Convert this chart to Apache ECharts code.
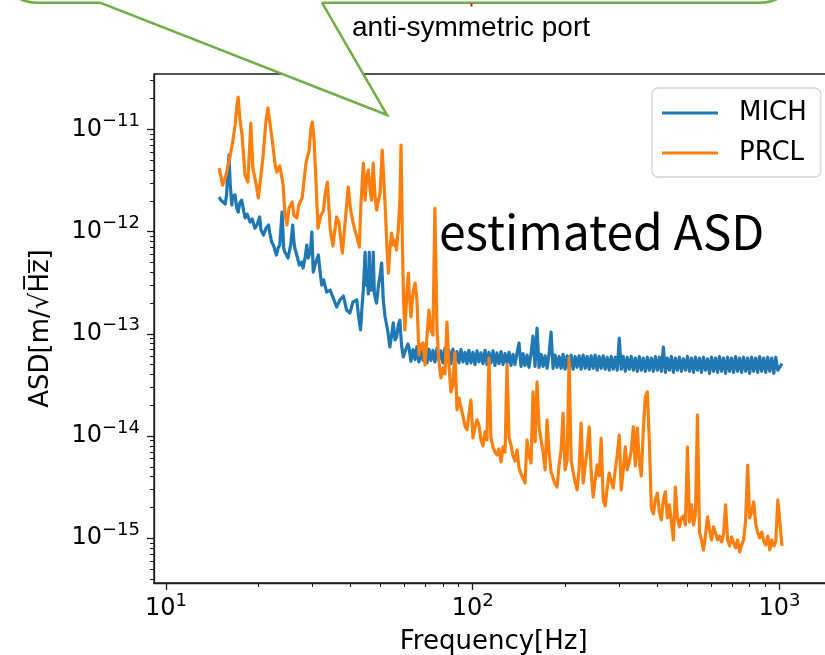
<!DOCTYPE html>
<html>
<head>
<meta charset="utf-8">
<script src="https://cdn.jsdelivr.net/npm/echarts@6/dist/echarts.min.js"></script>
<style>
html, body { margin: 0; padding: 0; background: #ffffff; }
#chart { width: 825px; height: 655px; }
</style>
</head>
<body>
<div id="chart"></div>
<script>
// Low-frequency part of the PRCL spectrum: frequency [Hz] and ASD [m/sqrt(Hz)]
const prclLowFreq = [14.9,15.1,15.3,15.6,15.8,16.2,16.5,16.8,17.0,17.2,
  17.4,17.7,18.1,18.5,18.9,19.2,19.7,20.0,20.4,20.7,
  21.2,21.5,21.8,22.2,22.7,23.0,23.5,24.1,24.4,24.8,
  25.2,25.8,26.1,26.7,27.1,27.8,28.2,28.6,29.3,29.7,
  30.0,30.4,30.7,31.3,32.0,32.6,33.0,33.6,34.3,35.0,
  36.0,36.6,37.6,38.3,39.3,40.0,40.7,41.3,42.0,42.7,
  43.2,44.0,44.6,45.1,45.7,46.3,46.8,47.4,48.0,48.6,
  49.3,49.9,50.7,51.4,51.8,52.4,53.1,53.7,54.4,55.2,
  55.8,56.4,57.2,57.9,58.4,59.0,59.5,60.1,61.1,61.7];
const prclLowAsd = [4.18e-12,3.49e-12,2.85e-12,3.34e-12,3.91e-12,5.61e-12,7.51e-12,1.10e-11,1.62e-11,2.07e-11,
  1.29e-11,8.80e-12,3.57e-12,3.05e-12,1.15e-11,4.18e-12,2.85e-12,2.13e-12,3.57e-12,5.24e-12,
  1.23e-11,1.62e-11,1.18e-11,7.86e-12,4.48e-12,3.82e-12,4.38e-12,2.85e-12,1.55e-12,1.16e-12,
  1.70e-12,1.95e-12,1.45e-12,1.36e-12,1.82e-12,2.13e-12,3.19e-12,4.68e-12,6.28e-12,1.03e-11,
  1.18e-11,7.86e-12,4.18e-12,1.08e-12,1.45e-12,1.59e-12,2.28e-12,3.05e-12,1.08e-12,7.22e-13,
  1.39e-12,1.24e-12,6.17e-13,1.16e-12,2.73e-12,1.62e-12,1.24e-12,1.04e-12,8.65e-13,7.06e-13,
  1.82e-12,4.68e-12,2.03e-12,3.34e-12,4.00e-12,2.55e-12,2.03e-12,4.68e-12,2.28e-12,1.62e-12,
  2.03e-12,2.38e-12,6.28e-12,2.85e-12,1.90e-12,8.27e-13,3.93e-13,6.60e-13,9.68e-13,7.39e-13,
  8.27e-13,6.60e-13,1.04e-12,2.03e-12,7.02e-12,7.73e-13,2.14e-13,1.09e-13,2.68e-13,3.93e-13];

// Low-frequency part of the MICH spectrum
const michLowFreq = [14.9,15.1,15.3,15.6,15.76,15.9,16.05,16.2,16.4,16.5,
  16.8,17.0,17.2,17.4,17.65,17.9,18.1,18.4,18.8,19.1,
  19.5,19.8,20.2,20.4,20.8,21.2,21.6,21.8,22.1,22.4,
  22.9,23.2,23.5,23.9,24.2,24.4,25.0,25.5,25.9,26.1,
  26.3,26.7,27.2,27.7,28.0,28.4,28.8,29.1,29.6,29.9,
  30.2,30.8,31.4,31.8,32.2,32.7,33.4,34.3,35.1,36.0,
  36.9,37.9,38.8,39.8,40.7,41.9,42.4,43.1,43.6,44.0,
  44.6,44.9,45.3,45.7,46.0,46.4,46.8,47.1,47.4,47.8,
  48.6,49.3,49.9,50.5,51.1,51.8,52.8,53.7,54.4,55.1,
  55.8,56.5,57.2,57.9,58.6,59.4,60.4,61.5];
const michLowAsd = [2.18e-12,2.03e-12,2.08e-12,1.86e-12,2.28e-12,3.82e-12,5.61e-12,2.85e-12,1.82e-12,2.23e-12,
  2.28e-12,1.70e-12,1.55e-12,1.90e-12,2.03e-12,1.62e-12,1.36e-12,1.48e-12,1.24e-12,1.33e-12,
  1.08e-12,1.16e-12,1.39e-12,1.04e-12,9.25e-13,1.08e-12,1.16e-12,9.68e-13,7.90e-13,7.39e-13,
  5.90e-13,6.90e-13,7.39e-13,1.55e-12,6.90e-13,6.31e-13,5.51e-13,7.39e-13,1.16e-12,8.27e-13,
  6.90e-13,5.90e-13,4.71e-13,5.04e-13,4.40e-13,5.51e-13,7.39e-13,5.51e-13,6.60e-13,9.90e-13,
  4.02e-13,5.04e-13,5.90e-13,4.02e-13,3.00e-13,3.36e-13,2.56e-13,2.68e-13,2.24e-13,1.83e-13,
  2.14e-13,2.34e-13,1.71e-13,1.60e-13,2.05e-13,2.14e-13,1.53e-13,1.09e-13,1.91e-13,2.68e-13,
  6.31e-13,3.00e-13,3.59e-13,2.45e-13,6.31e-13,2.68e-13,3.93e-13,2.68e-13,6.31e-13,2.45e-13,
  2.00e-13,3.00e-13,3.76e-13,4.93e-13,2.14e-13,1.46e-13,1.09e-13,7.43e-14,9.73e-14,1.28e-13,
  8.70e-14,9.30e-14,1.22e-13,1.36e-13,7.77e-14,5.93e-14,6.94e-14,7.95e-14];

// Common frequency bins [Hz] above 62 Hz, shared by both channels
const binFreq = [62.0,62.9,63.9,64.9,65.8,66.8,67.8,68.9,69.9,71.0,
  72.0,73.1,74.2,75.3,76.5,77.6,78.8,80.0,81.2,82.4,
  83.7,84.9,86.2,87.5,88.9,90.2,91.6,93.0,94.4,95.8,
  97.2,98.7,100.2,101.7,103.3,104.8,106.4,108.0,109.7,111.3,
  113.0,114.7,116.5,118.2,120.0,121.8,123.7,125.6,127.5,129.4,
  131.4,133.3,135.4,137.4,139.5,141.6,143.7,145.9,148.1,150.4,
  152.6,155.0,157.3,159.7,162.1,164.6,167.1,169.6,172.2,174.8,
  177.4,180.1,182.8,185.6,188.4,191.3,194.2,197.1,200.1,203.2,
  206.2,209.4,212.5,215.8,219.0,222.4,225.7,229.2,232.7,236.2,
  239.8,243.4,247.1,250.8,254.6,258.5,262.4,266.4,270.4,274.5,
  278.7,282.9,287.2,291.6,296.0,300.5,305.0,309.7,314.4,319.1,
  324.0,328.9,333.9,338.9,344.1,349.3,354.6,360.0,365.4,371.0,
  376.6,382.3,388.1,394.0,400.0,406.1,412.2,418.5,424.8,431.3,
  437.8,444.5,451.2,458.1,465.0,472.1,479.2,486.5,493.9,501.4,
  509.0,516.7,524.6,532.5,540.6,548.8,557.2,565.6,574.2,582.9,
  591.8,600.8,609.9,619.2,628.6,638.1,647.8,657.6,667.6,677.8,
  688.1,698.5,709.1,719.9,730.8,741.9,753.2,764.6,776.2,788.0,
  800.0,812.2,824.5,837.0,849.8,862.7,875.8,889.1,902.6,916.3,
  930.2,944.4,958.7,973.3,988.1,1020];

// MICH ASD on the common bins (flat noise floor with a few lines)
const michBinAsd = [7.3e-14,5.4e-14,7.0e-14,5.6e-14,7.5e-14,5.3e-14,6.8e-14,5.5e-14,7.4e-14,5.2e-14,
  7.1e-14,5.5e-14,6.9e-14,5.3e-14,7.3e-14,5.6e-14,6.8e-14,5.2e-14,7.2e-14,5.4e-14,
  6.9e-14,5.1e-14,7.1e-14,5.4e-14,6.7e-14,5.2e-14,7.0e-14,5.3e-14,6.6e-14,5.1e-14,
  6.9e-14,5.2e-14,6.6e-14,5.0e-14,6.8e-14,5.3e-14,6.5e-14,5.1e-14,6.9e-14,5.0e-14,
  6.6e-14,5.2e-14,6.8e-14,4.9e-14,6.5e-14,5.1e-14,6.7e-14,5.0e-14,6.4e-14,5.2e-14,
  6.6e-14,4.9e-14,6.3e-14,5.0e-14,6.5e-14,8.1e-14,4.8e-14,6.4e-14,4.9e-14,6.2e-14,
  4.7e-14,6.4e-14,9.5e-14,4.8e-14,1.14e-13,4.7e-14,6.3e-14,4.8e-14,6.1e-14,4.6e-14,
  6.3e-14,1.04e-13,4.6e-14,6.2e-14,4.7e-14,6.0e-14,4.6e-14,6.3e-14,4.5e-14,6.1e-14,
  4.6e-14,6.2e-14,4.5e-14,6.0e-14,4.7e-14,6.1e-14,4.5e-14,6.2e-14,4.6e-14,6.0e-14,
  4.5e-14,6.1e-14,4.6e-14,6.2e-14,4.4e-14,6.0e-14,4.6e-14,6.1e-14,4.5e-14,5.9e-14,
  4.4e-14,6.0e-14,4.5e-14,5.9e-14,4.4e-14,9.1e-14,4.5e-14,6.0e-14,4.3e-14,5.9e-14,
  4.5e-14,6.0e-14,4.4e-14,5.8e-14,4.3e-14,6.0e-14,4.4e-14,5.8e-14,4.3e-14,5.9e-14,
  4.4e-14,5.8e-14,4.3e-14,6.0e-14,4.4e-14,5.9e-14,4.3e-14,7.4e-14,4.2e-14,5.8e-14,
  4.4e-14,6.0e-14,4.2e-14,5.8e-14,4.4e-14,5.9e-14,4.3e-14,5.7e-14,4.4e-14,6.0e-14,
  4.3e-14,5.8e-14,4.2e-14,5.9e-14,4.4e-14,5.8e-14,4.2e-14,5.9e-14,4.4e-14,5.7e-14,
  4.1e-14,5.9e-14,4.3e-14,5.8e-14,4.2e-14,6.0e-14,4.3e-14,5.8e-14,4.1e-14,5.9e-14,
  4.3e-14,5.8e-14,4.2e-14,6.0e-14,4.3e-14,5.8e-14,4.2e-14,5.9e-14,4.3e-14,5.8e-14,
  4.1e-14,5.9e-14,4.3e-14,5.8e-14,4.2e-14,6.0e-14,4.3e-14,5.8e-14,4.2e-14,5.9e-14,
  4.3e-14,5.8e-14,4.1e-14,5.9e-14,4.4e-14,5.1e-14];

// PRCL ASD on the common bins
const prclBinAsd = [2.68e-13,1.46e-13,2.56e-13,3.14e-13,2.14e-13,6.21e-14,7.77e-14,8.13e-14,4.95e-14,9.73e-14,
  1.71e-13,1.09e-13,9.73e-14,1.70e-12,1.09e-13,5.30e-14,3.70e-14,4.63e-14,4.05e-14,1.30e-13,
  4.95e-14,2.70e-14,3.16e-14,6.64e-14,1.80e-14,2.36e-14,1.88e-14,1.57e-14,1.25e-14,1.15e-14,
  1.64e-14,2.25e-14,9.57e-15,1.20e-14,1.44e-14,1.28e-14,9.15e-15,7.99e-15,1.10e-14,9.15e-15,
  5.80e-14,9.57e-15,7.82e-15,6.98e-15,6.53e-15,7.47e-15,5.58e-15,7.82e-15,6.98e-15,4.95e-14,
  9.57e-15,8.17e-15,6.38e-15,5.70e-15,7.30e-15,4.87e-15,4.26e-15,3.89e-15,3.47e-15,9.15e-15,
  6.53e-15,5.45e-15,2.70e-14,8.75e-15,3.38e-14,1.23e-14,9.15e-15,6.98e-15,4.66e-15,1.44e-14,
  6.98e-15,4.45e-15,3.89e-15,3.40e-15,3.17e-15,5.21e-15,7.30e-15,1.68e-14,4.66e-15,5.83e-15,
  5.80e-14,5.83e-15,4.45e-15,3.55e-15,2.97e-15,4.87e-15,1.34e-14,3.47e-15,5.21e-15,7.30e-15,
  1.23e-14,4.45e-15,2.53e-15,3.72e-15,5.21e-15,4.07e-15,9.57e-15,2.37e-15,2.07e-15,3.10e-15,
  4.35e-15,3.55e-15,3.10e-15,4.66e-15,6.53e-15,1.02e-14,2.97e-15,4.66e-15,7.82e-15,4.66e-15,
  5.58e-15,7.30e-15,1.23e-14,5.10e-15,1.20e-14,5.58e-15,4.07e-15,1.15e-14,2.41e-14,2.70e-14,
  9.15e-15,1.98e-15,1.73e-15,2.37e-15,2.77e-15,1.81e-15,1.51e-15,2.37e-15,2.84e-15,1.58e-15,
  2.12e-15,1.44e-15,9.62e-16,3.17e-15,1.58e-15,1.29e-15,1.58e-15,1.65e-15,1.35e-15,7.82e-15,
  1.44e-15,2.12e-15,1.35e-15,1.69e-15,1.61e-14,1.15e-15,9.62e-16,7.68e-16,1.08e-15,1.62e-15,
  1.21e-15,9.62e-16,1.29e-15,1.13e-15,9.62e-16,1.05e-15,9.20e-16,1.10e-15,2.12e-15,9.62e-16,
  8.41e-16,1.03e-15,9.00e-16,8.04e-16,9.62e-16,7.35e-16,8.60e-16,9.62e-16,1.51e-15,5.21e-15,
  1.58e-15,1.81e-15,2.27e-15,1.38e-15,1.13e-15,1.01e-15,1.15e-15,9.41e-16,8.60e-16,1.05e-15,
  7.68e-16,9.62e-16,8.41e-16,9.20e-16,2.37e-15,8.41e-16];

// Axis extents and tick marks
const xRange = [9.14, 1500];
const yRange = [3.65e-16, 3.48e-11];
const xMajorTicks = [10, 100, 1000];
const xMajorExp = ['1', '2', '3'];
const xMinorTicks = [20, 30, 40, 50, 60, 70, 80, 90, 200, 300, 400, 500, 600, 700, 800, 900];
const yMajorTicks = [1e-15, 1e-14, 1e-13, 1e-12, 1e-11];
const yMajorExp = ['\u221215', '\u221214', '\u221213', '\u221212', '\u221211'];
const yMinorTicks = [4e-16, 5e-16, 6e-16, 7e-16, 8e-16, 9e-16,
  2e-15, 3e-15, 4e-15, 5e-15, 6e-15, 7e-15, 8e-15, 9e-15,
  2e-14, 3e-14, 4e-14, 5e-14, 6e-14, 7e-14, 8e-14, 9e-14,
  2e-13, 3e-13, 4e-13, 5e-13, 6e-13, 7e-13, 8e-13, 9e-13,
  2e-12, 3e-12, 4e-12, 5e-12, 6e-12, 7e-12, 8e-12, 9e-12,
  2e-11, 3e-11];

const seriesNames = ['MICH', 'PRCL'];
const seriesColors = ['#1f77b4', '#ff7f0e'];

const FONT = 'DejaVu Sans';
const AXIS_COLOR = '#1a1a1a';
const BUBBLE_GREEN = '#70ad47';

function pairs(xs, ys) {
  return xs.map((x, i) => [x, ys[i]]);
}

function powerLabel(ticks, exps) {
  return function (v) {
    for (let i = 0; i < ticks.length; i++) {
      if (Math.abs(v - ticks[i]) / ticks[i] < 1e-6) {
        return '{b|10}{s|' + exps[i] + '}';
      }
    }
    return '';
  };
}

const labelRich = {
  b: { fontSize: 24, fontFamily: FONT, color: '#000', lineHeight: 34 },
  s: { fontSize: 18, fontFamily: FONT, color: '#000', lineHeight: 12, verticalAlign: 'top' }
};

const plotBox = { left: 154, top: 74, width: 679.4, height: 509, outerBoundsMode: 'none', containLabel: false };

const michData = pairs(michLowFreq, michLowAsd).concat(pairs(binFreq, michBinAsd));
const prclData = pairs(prclLowFreq, prclLowAsd).concat(pairs(binFreq, prclBinAsd));

const chart = echarts.init(document.getElementById('chart'), null, { renderer: 'canvas' });

chart.setOption({
  animation: false,
  backgroundColor: '#ffffff',
  grid: [
    Object.assign({ show: true, borderColor: AXIS_COLOR, borderWidth: 1.3, backgroundColor: 'transparent' }, plotBox),
    Object.assign({ show: false }, plotBox)
  ],
  xAxis: [
    {
      type: 'log', gridIndex: 0, min: xRange[0], max: xRange[1], position: 'bottom',
      axisLine: { show: true, lineStyle: { color: AXIS_COLOR, width: 1.3 } },
      axisTick: { show: true, inside: false, length: 7, customValues: xMajorTicks, lineStyle: { color: AXIS_COLOR, width: 1.3 } },
      axisLabel: { show: true, margin: 9, customValues: xMajorTicks, formatter: powerLabel(xMajorTicks, xMajorExp), rich: labelRich },
      splitLine: { show: false },
      minorTick: { show: false },
      name: 'Frequency[Hz]', nameLocation: 'middle', nameGap: 46,
      nameTextStyle: { fontSize: 26, fontFamily: FONT, color: '#000' }
    },
    {
      type: 'log', gridIndex: 1, min: xRange[0], max: xRange[1], position: 'bottom',
      axisLine: { show: false },
      axisTick: { show: true, inside: false, length: 4, customValues: xMinorTicks, lineStyle: { color: AXIS_COLOR, width: 1 } },
      axisLabel: { show: false },
      splitLine: { show: false }
    }
  ],
  yAxis: [
    {
      type: 'log', gridIndex: 0, min: yRange[0], max: yRange[1], position: 'left',
      axisLine: { show: true, lineStyle: { color: AXIS_COLOR, width: 1.3 } },
      axisTick: { show: true, inside: false, length: 7, customValues: yMajorTicks, lineStyle: { color: AXIS_COLOR, width: 1.3 } },
      axisLabel: { show: true, margin: 14, customValues: yMajorTicks, formatter: powerLabel(yMajorTicks, yMajorExp), rich: labelRich },
      splitLine: { show: false },
      minorTick: { show: false },
      name: 'ASD[m/\u221AH\u0305z\u0305]', nameLocation: 'middle', nameGap: 100,
      nameTextStyle: { fontSize: 26, fontFamily: FONT, color: '#000' }
    },
    {
      type: 'log', gridIndex: 1, min: yRange[0], max: yRange[1], position: 'left',
      axisLine: { show: false },
      axisTick: { show: true, inside: false, length: 4, customValues: yMinorTicks, lineStyle: { color: AXIS_COLOR, width: 1 } },
      axisLabel: { show: false },
      splitLine: { show: false }
    }
  ],
  legend: {
    orient: 'vertical',
    left: 652, top: 88,
    data: seriesNames,
    icon: 'rect',
    itemWidth: 56, itemHeight: 3, itemGap: 10,
    padding: [10, 14, 9, 10],
    backgroundColor: '#ffffff',
    borderColor: '#d4d4d4', borderWidth: 1.3, borderRadius: 6,
    textStyle: { fontSize: 26, fontFamily: FONT, color: '#000', padding: [0, 0, 0, 16], lineHeight: 30 }
  },
  series: [
    {
      name: seriesNames[0], type: 'line', xAxisIndex: 0, yAxisIndex: 0,
      data: michData,
      showSymbol: false, symbol: 'none', clip: true, sampling: 'none',
      color: seriesColors[0],
      lineStyle: { width: 3.2, color: seriesColors[0], join: 'round', cap: 'butt' },
      emphasis: { disabled: true }, z: 2
    },
    {
      name: seriesNames[1], type: 'line', xAxisIndex: 0, yAxisIndex: 0,
      data: prclData,
      showSymbol: false, symbol: 'none', clip: true, sampling: 'none',
      color: seriesColors[1],
      lineStyle: { width: 3.2, color: seriesColors[1], join: 'round', cap: 'butt' },
      emphasis: { disabled: true }, z: 3
    }
  ],
  graphic: [
    {
      // speech-bubble body running off the top edge
      type: 'rect', z: 100,
      shape: { x: -3, y: -200, width: 803, height: 202.7, r: 40 },
      style: { fill: '#ffffff', stroke: BUBBLE_GREEN, lineWidth: 2.5 }
    },
    {
      // white pointer area (also hides the body edge under its base)
      type: 'polygon', z: 101,
      shape: { points: [[101, -1], [100, 2.7], [387, 115], [322, 2.7], [321, -1]] },
      style: { fill: '#ffffff' }
    },
    {
      type: 'polyline', z: 102,
      shape: { points: [[100, 2.7], [387, 115], [322, 2.7]] },
      style: { stroke: BUBBLE_GREEN, lineWidth: 2.5, fill: null, lineJoin: 'miter' }
    },
    {
      type: 'rect', z: 103,
      shape: { x: 470.5, y: 3.5, width: 2, height: 3 },
      style: { fill: '#ff0000' }
    },
    {
      type: 'text', z: 103, left: 352, top: 14,
      style: { text: 'anti-symmetric port', fontSize: 28, fontFamily: 'Liberation Sans', fill: '#000' }
    },
    {
      type: 'text', z: 103, left: 439, top: 208,
      style: { text: 'estimated ASD', fontSize: 48, fontFamily: 'Noto Sans CJK JP', fill: '#000' }
    }
  ]
});
</script>
</body>
</html>
